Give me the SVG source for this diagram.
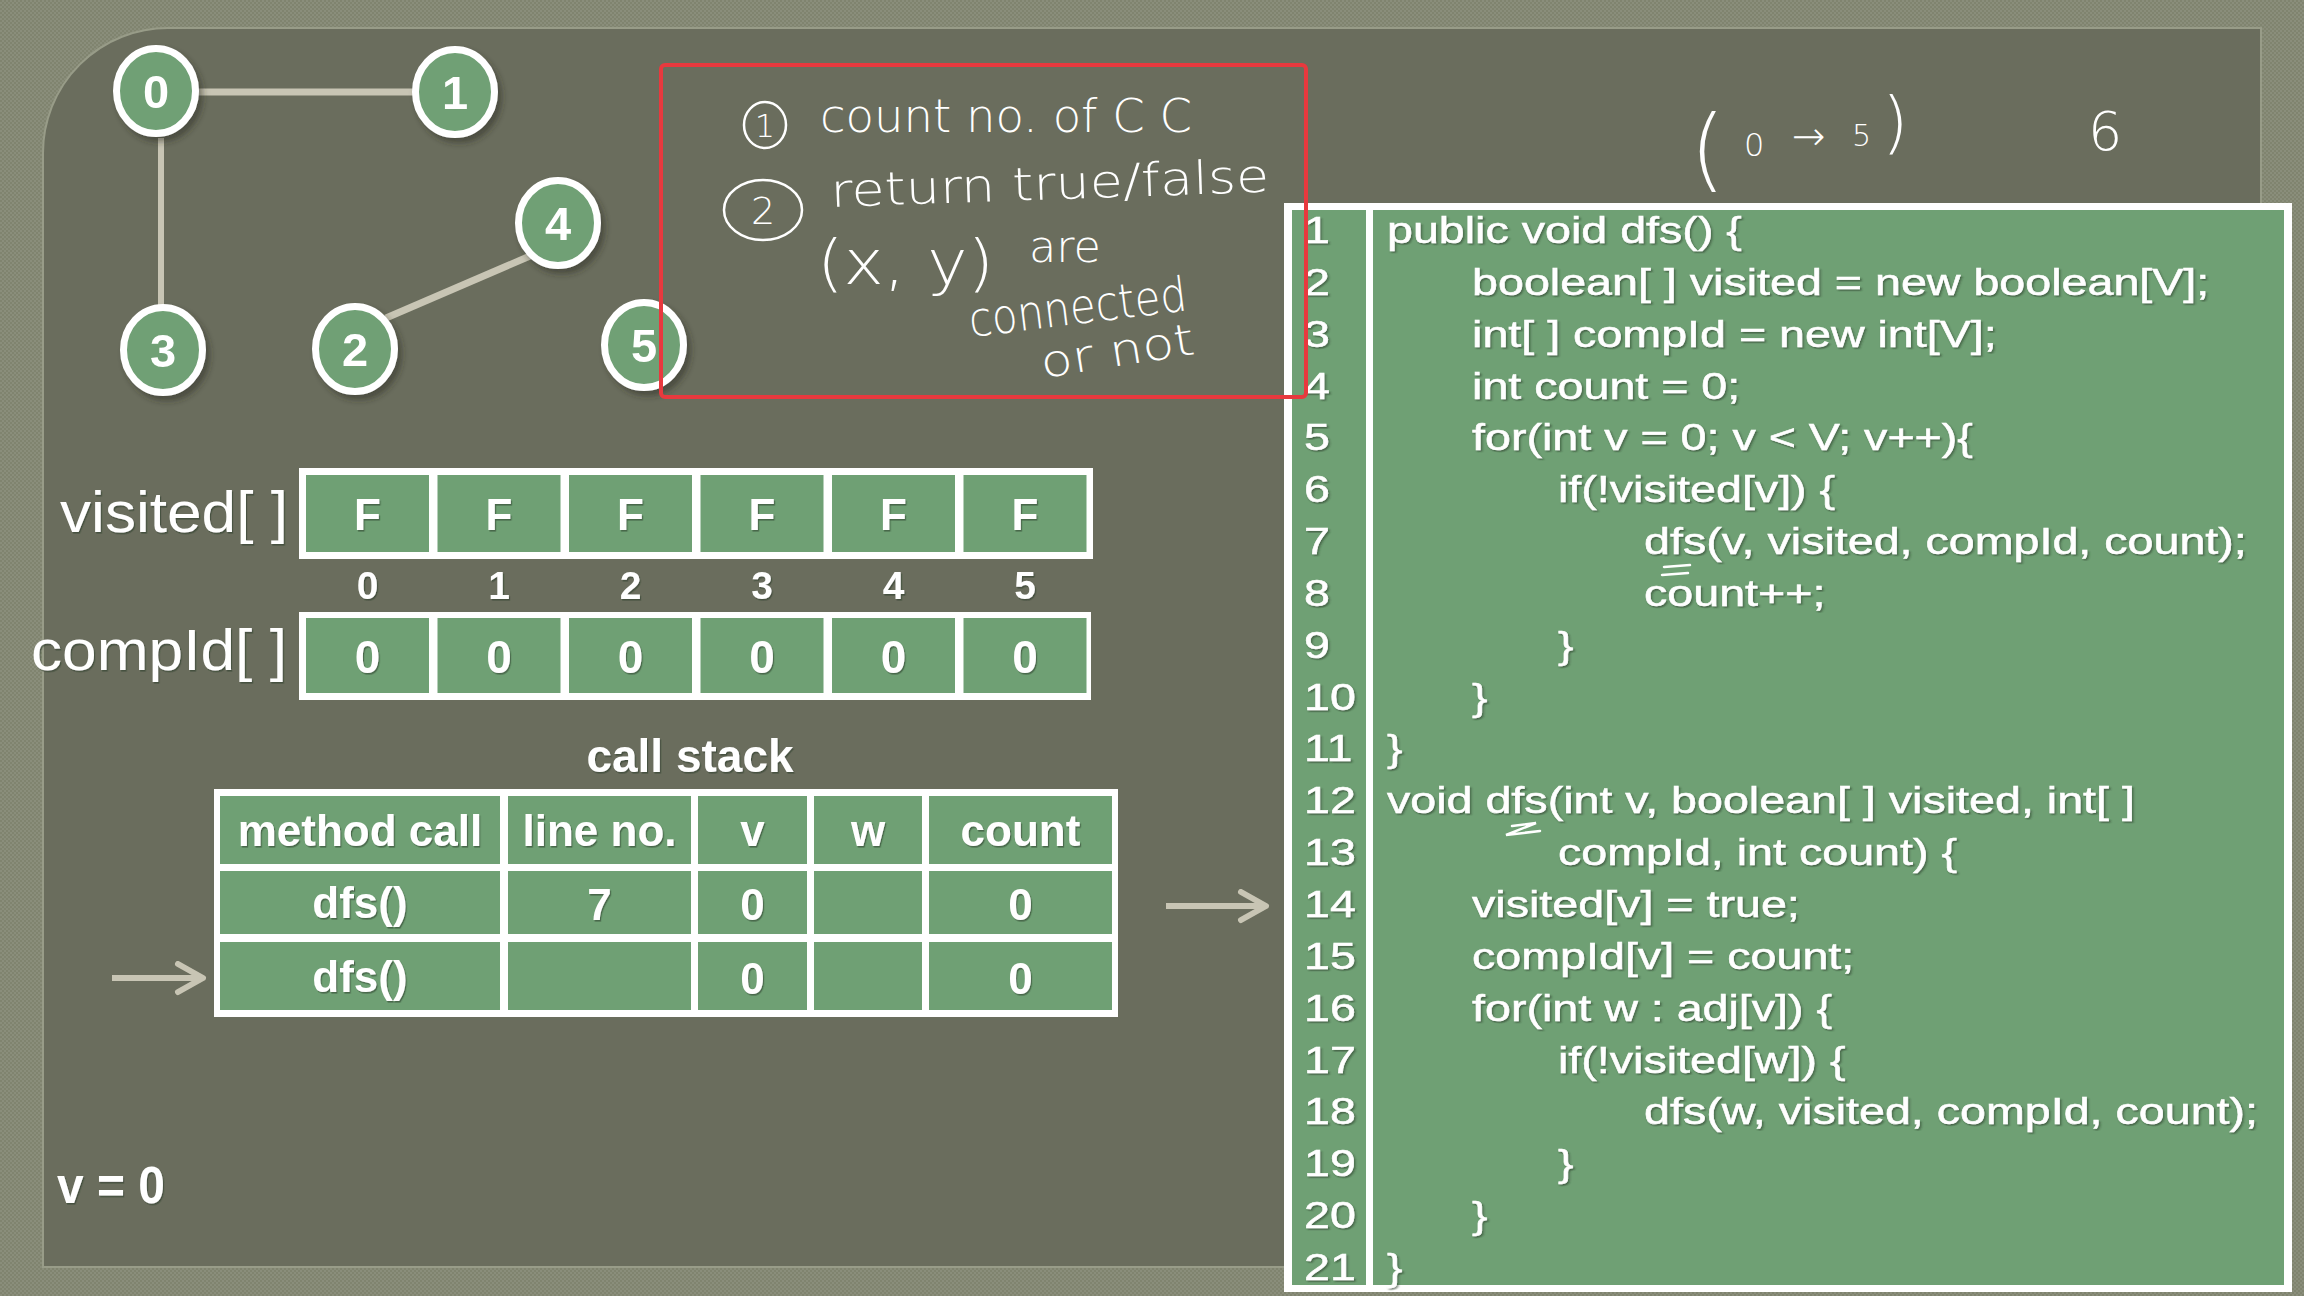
<svg xmlns="http://www.w3.org/2000/svg" width="2304" height="1296" viewBox="0 0 2304 1296">
  <defs>
    <pattern id="weave" width="4" height="4" patternUnits="userSpaceOnUse">
      <rect width="4" height="4" fill="#8a8e7b"/>
      <rect x="0" y="0" width="2" height="2" fill="#80846f"/>
      <rect x="2" y="2" width="2" height="2" fill="#80846f"/>
    </pattern>
    <filter id="ts" x="-5%" y="-20%" width="110%" height="150%">
      <feDropShadow dx="1.2" dy="1.6" stdDeviation="0.7" flood-color="#2b3a2b" flood-opacity="0.55"/>
    </filter>
    <filter id="nodeShadow" x="-30%" y="-30%" width="160%" height="160%">
      <feDropShadow dx="4" dy="5" stdDeviation="3" flood-color="#2a2c24" flood-opacity="0.5"/>
    </filter>
    <marker id="chev" markerUnits="userSpaceOnUse" markerWidth="40" markerHeight="40" refX="30" refY="17" orient="auto">
      <path d="M5,3 L30,17 L5,31" fill="none" stroke="#c8c5b4" stroke-width="6" stroke-linecap="round" stroke-linejoin="round"/>
    </marker>
    <style>
      .cell { fill: #6fa074; }
      .frame { fill: #ffffff; }
      .edge { stroke: #c8c5b4; stroke-width: 7; stroke-linecap: butt; fill: none; }
      .arrow { stroke: #c8c5b4; stroke-width: 6; fill: none; }
      .node-ring { fill: #6fa074; stroke: #ffffff; stroke-width: 7; }
      .node-label { font-family: "Liberation Sans", Arial, sans-serif; font-weight: bold; font-size: 47px; fill: #ffffff; text-anchor: middle; }
      .code { font-family: "Liberation Sans", Arial, sans-serif; font-size: 37px; fill: #ffffff; stroke: #ffffff; stroke-width: 0.5; }
      .bold { font-family: "Liberation Sans", Arial, sans-serif; font-weight: bold; fill: #ffffff; text-anchor: middle; }
      .label { font-family: "Liberation Sans", Arial, sans-serif; fill: #ffffff; }
      .hand { font-family: "DejaVu Sans", "Noto Sans", sans-serif; font-weight: 200; fill: #ffffff; }
      .ink { fill: none; stroke: #ffffff; stroke-width: 2.5; stroke-linecap: round; }
    </style>
  </defs>

  <!-- background -->
  <rect x="0" y="0" width="2304" height="1296" fill="url(#weave)"/>
  <path d="M43,1267 V153 A125,125 0 0 1 168,28 H2261 V1267 Z" fill="#6a6d5d" stroke="#989c88" stroke-width="2"/>

  <!-- connectors -->
  <g id="connectors">
    <line class="edge" x1="198" y1="92" x2="414" y2="92"/>
    <line class="edge" x1="161" y1="138" x2="161" y2="305" style="stroke-width:6"/>
    <line class="edge" x1="386" y1="318" x2="530" y2="256"/>
    <line class="arrow" x1="112" y1="978" x2="203" y2="978" marker-end="url(#chev)"/>
    <line class="arrow" x1="1166" y1="906" x2="1266" y2="906" marker-end="url(#chev)"/>
  </g>

  <!-- graph nodes -->
  <g id="node-0" filter="url(#nodeShadow)">
    <ellipse class="node-ring" cx="156" cy="91" rx="39.5" ry="42.5"/>
    <text class="node-label" x="156" y="108">0</text>
  </g>
  <g id="node-1" filter="url(#nodeShadow)">
    <ellipse class="node-ring" cx="455" cy="92" rx="39.5" ry="42.5"/>
    <text class="node-label" x="455" y="109">1</text>
  </g>
  <g id="node-4" filter="url(#nodeShadow)">
    <ellipse class="node-ring" cx="558" cy="223" rx="39.5" ry="42.5"/>
    <text class="node-label" x="558" y="240">4</text>
  </g>
  <g id="node-3" filter="url(#nodeShadow)">
    <ellipse class="node-ring" cx="163" cy="350" rx="39.5" ry="42.5"/>
    <text class="node-label" x="163" y="367">3</text>
  </g>
  <g id="node-2" filter="url(#nodeShadow)">
    <ellipse class="node-ring" cx="355" cy="349" rx="39.5" ry="42.5"/>
    <text class="node-label" x="355" y="366">2</text>
  </g>
  <g id="node-5" filter="url(#nodeShadow)">
    <ellipse class="node-ring" cx="644" cy="345" rx="39.5" ry="42.5"/>
    <text class="node-label" x="644" y="362">5</text>
  </g>

  <!-- visited array -->
  <g id="visited-array">
    <text class="label" x="60" y="532" font-size="57" textLength="228" lengthAdjust="spacingAndGlyphs" filter="url(#ts)">visited[ ]</text>
    <rect class="frame" x="299" y="468" width="794" height="91"/>
    <rect class="cell" x="306" y="475" width="123" height="77"/>
    <rect class="cell" x="437.5" y="475" width="123" height="77"/>
    <rect class="cell" x="569" y="475" width="123" height="77"/>
    <rect class="cell" x="700.5" y="475" width="123" height="77"/>
    <rect class="cell" x="832" y="475" width="123" height="77"/>
    <rect class="cell" x="963.5" y="475" width="123" height="77"/>
    <g class="bold" font-size="44" filter="url(#ts)">
      <text x="367.5" y="530">F</text>
      <text x="499" y="530">F</text>
      <text x="630.5" y="530">F</text>
      <text x="762" y="530">F</text>
      <text x="893.5" y="530">F</text>
      <text x="1025" y="530">F</text>
    </g>
  </g>

  <!-- indices -->
  <g id="indices" class="bold" font-size="39" filter="url(#ts)">
    <text x="367.5" y="599">0</text>
    <text x="499" y="599">1</text>
    <text x="630.5" y="599">2</text>
    <text x="762" y="599">3</text>
    <text x="893.5" y="599">4</text>
    <text x="1025" y="599">5</text>
  </g>

  <!-- compId array -->
  <g id="compId-array">
    <text class="label" x="31" y="670" font-size="57" textLength="256" lengthAdjust="spacingAndGlyphs" filter="url(#ts)">compId[ ]</text>
    <rect class="frame" x="299" y="612" width="792" height="88"/>
    <rect class="cell" x="306" y="618" width="123" height="75"/>
    <rect class="cell" x="437.5" y="618" width="123" height="75"/>
    <rect class="cell" x="569" y="618" width="123" height="75"/>
    <rect class="cell" x="700.5" y="618" width="123" height="75"/>
    <rect class="cell" x="832" y="618" width="123" height="75"/>
    <rect class="cell" x="963.5" y="618" width="123" height="75"/>
    <g class="bold" font-size="46" filter="url(#ts)">
      <text x="367.5" y="673">0</text>
      <text x="499" y="673">0</text>
      <text x="630.5" y="673">0</text>
      <text x="762" y="673">0</text>
      <text x="893.5" y="673">0</text>
      <text x="1025" y="673">0</text>
    </g>
  </g>

  <!-- call stack -->
  <g id="call-stack">
    <text class="bold" x="690" y="772" font-size="46" filter="url(#ts)">call stack</text>
    <rect class="frame" x="214" y="789" width="904" height="228"/>
    <rect class="cell" x="220" y="796" width="280" height="68"/>
    <rect class="cell" x="508" y="796" width="183" height="68"/>
    <rect class="cell" x="698" y="796" width="109" height="68"/>
    <rect class="cell" x="814" y="796" width="108" height="68"/>
    <rect class="cell" x="929" y="796" width="183" height="68"/>
    <rect class="cell" x="220" y="871" width="280" height="63"/>
    <rect class="cell" x="508" y="871" width="183" height="63"/>
    <rect class="cell" x="698" y="871" width="109" height="63"/>
    <rect class="cell" x="814" y="871" width="108" height="63"/>
    <rect class="cell" x="929" y="871" width="183" height="63"/>
    <rect class="cell" x="220" y="942" width="280" height="68"/>
    <rect class="cell" x="508" y="942" width="183" height="68"/>
    <rect class="cell" x="698" y="942" width="109" height="68"/>
    <rect class="cell" x="814" y="942" width="108" height="68"/>
    <rect class="cell" x="929" y="942" width="183" height="68"/>
    <g class="bold" font-size="44" filter="url(#ts)">
      <text x="360" y="846">method call</text>
      <text x="599.5" y="846">line no.</text>
      <text x="752.5" y="846">v</text>
      <text x="868" y="846">w</text>
      <text x="1020.5" y="846">count</text>
      <text x="360" y="918">dfs()</text>
      <text x="599.5" y="920">7</text>
      <text x="752.5" y="920">0</text>
      <text x="1020.5" y="920">0</text>
      <text x="360" y="992">dfs()</text>
      <text x="752.5" y="994">0</text>
      <text x="1020.5" y="994">0</text>
    </g>
  </g>

  <text id="v-eq" class="label" x="57" y="1203" font-size="52" font-weight="bold" textLength="108" lengthAdjust="spacingAndGlyphs" filter="url(#ts)">v = 0</text>

  <!-- code panel -->
  <g id="code-panel">
    <rect class="frame" x="1284" y="203" width="1008" height="1089"/>
    <rect class="cell" x="1292" y="210" width="74" height="1075"/>
    <rect class="cell" x="1373" y="210" width="911" height="1075"/>
    <g class="code" transform="scale(1.26,1)" filter="url(#ts)">
      <text x="1035" y="243">1</text>
      <text x="1035" y="294.9">2</text>
      <text x="1035" y="346.7">3</text>
      <text x="1035" y="398.6">4</text>
      <text x="1035" y="450.4">5</text>
      <text x="1035" y="502.3">6</text>
      <text x="1035" y="554.1">7</text>
      <text x="1035" y="606">8</text>
      <text x="1035" y="657.8">9</text>
      <text x="1035" y="709.7">10</text>
      <text x="1035" y="761.5">11</text>
      <text x="1035" y="813.4">12</text>
      <text x="1035" y="865.2">13</text>
      <text x="1035" y="917.1">14</text>
      <text x="1035" y="968.9">15</text>
      <text x="1035" y="1020.8">16</text>
      <text x="1035" y="1072.6">17</text>
      <text x="1035" y="1124.5">18</text>
      <text x="1035" y="1176.3">19</text>
      <text x="1035" y="1228.2">20</text>
      <text x="1035" y="1280">21</text>

      <text x="1100.8" y="243">public void dfs() {</text>
      <text x="1168.3" y="294.9">boolean[ ] visited = new boolean[V];</text>
      <text x="1168.3" y="346.7">int[ ] compId = new int[V];</text>
      <text x="1168.3" y="398.6">int count = 0;</text>
      <text x="1168.3" y="450.4">for(int v = 0; v &lt; V; v++){</text>
      <text x="1236.5" y="502.3">if(!visited[v]) {</text>
      <text x="1304.8" y="554.1">dfs(v, visited, compId, count);</text>
      <text x="1304.8" y="606">count++;</text>
      <text x="1236.5" y="657.8">}</text>
      <text x="1168.3" y="709.7">}</text>
      <text x="1100.8" y="761.5">}</text>
      <text x="1100.8" y="813.4">void dfs(int v, boolean[ ] visited, int[ ]</text>
      <text x="1236.5" y="865.2">compId, int count) {</text>
      <text x="1168.3" y="917.1">visited[v] = true;</text>
      <text x="1168.3" y="968.9">compId[v] = count;</text>
      <text x="1168.3" y="1020.8">for(int w : adj[v]) {</text>
      <text x="1236.5" y="1072.6">if(!visited[w]) {</text>
      <text x="1304.8" y="1124.5">dfs(w, visited, compId, count);</text>
      <text x="1236.5" y="1176.3">}</text>
      <text x="1168.3" y="1228.2">}</text>
      <text x="1100.8" y="1280">}</text>
    </g>
    <!-- small handwritten underline marks -->
    <path class="ink" d="M1664,567 L1690,565 M1662,575 L1688,573"/>
    <path class="ink" d="M1512,826 L1536,823 L1506,835 L1540,831"/>
  </g>

  <!-- handwritten notes -->
  <g id="notes">
    <rect x="661" y="65" width="645" height="332" rx="4" fill="none" stroke="#e8393e" stroke-width="4"/>
    <ellipse class="ink" cx="765" cy="125" rx="21" ry="23"/>
    <text class="hand" x="765" y="137" font-size="32" text-anchor="middle">1</text>
    <text class="hand" x="820" y="132" font-size="46" textLength="372" lengthAdjust="spacingAndGlyphs">count no. of C C</text>
    <ellipse class="ink" cx="763" cy="210" rx="39" ry="30"/>
    <text class="hand" x="763" y="224" font-size="38" text-anchor="middle">2</text>
    <text class="hand" x="831" y="207" font-size="46" textLength="439" lengthAdjust="spacingAndGlyphs" transform="rotate(-2 831 207)">return true/false</text>
    <text class="hand" x="817" y="284" font-size="62" textLength="177" lengthAdjust="spacingAndGlyphs">(x, y)</text>
    <text class="hand" x="1029" y="262" font-size="44" textLength="72" lengthAdjust="spacingAndGlyphs">are</text>
    <text class="hand" x="971" y="337" font-size="48" textLength="219" lengthAdjust="spacingAndGlyphs" transform="rotate(-7 971 337)">connected</text>
    <text class="hand" x="1043" y="378" font-size="44" textLength="155" lengthAdjust="spacingAndGlyphs" transform="rotate(-9 1043 378)">or not</text>
    <text class="hand" fill="#ffffff">
      <tspan x="1690" y="180" font-size="90">(</tspan><tspan x="1744" y="156" font-size="32">0</tspan><tspan x="1792" y="150" font-size="40">→</tspan><tspan x="1852" y="146" font-size="30">5</tspan><tspan x="1882" y="146" font-size="68">)</tspan>
    </text>
    <text class="hand" x="2088" y="150" font-size="54">6</text>
  </g>
</svg>
